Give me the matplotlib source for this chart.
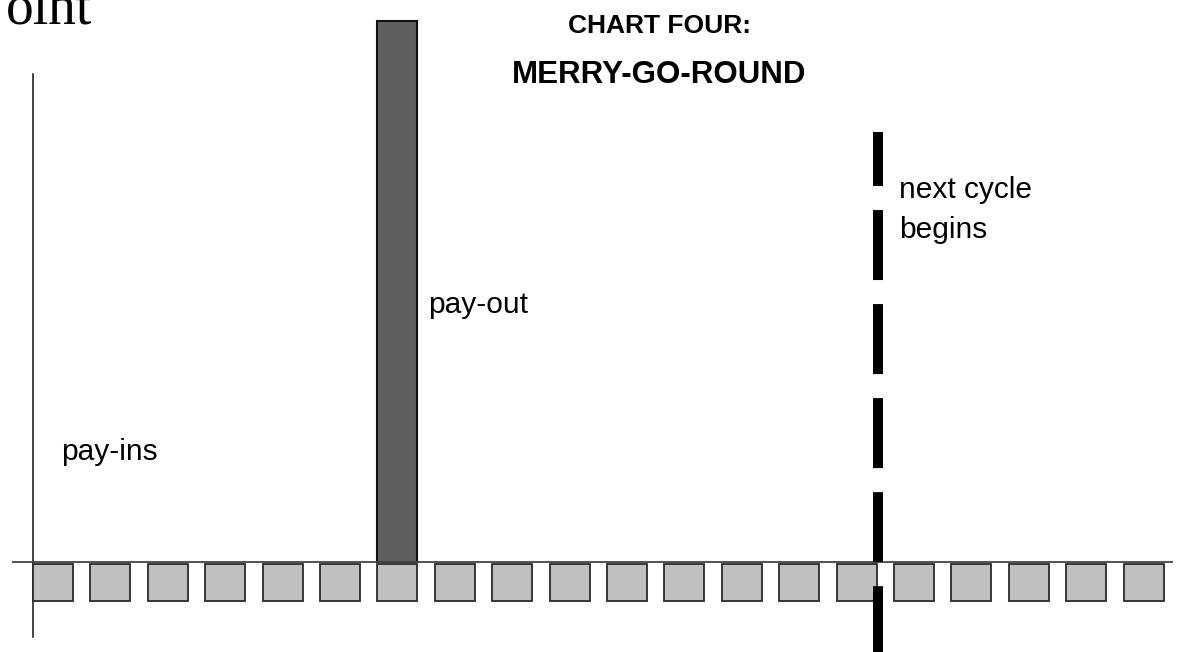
import matplotlib
matplotlib.use("Agg")
import matplotlib.pyplot as plt
from matplotlib.patches import Rectangle

plt.rcParams['font.family'] = ['Liberation Sans', 'DejaVu Sans']
plt.rcParams['lines.scale_dashes'] = False

# ---- data ----
periods = list(range(20))            # pay-in periods (grey squares)
payin_height = 0.68                   # size of each pay-in block
payout_period = 6                     # period in which the pay-out occurs
payout_value = 10.0                   # height of pay-out bar
next_cycle_at = 14.72                 # where next cycle begins
labels = {"pay-ins": "pay-ins", "pay-out": "pay-out",
          "next": ["next cycle", "begins"]}
title_lines = ["CHART FOUR:", "MERRY-GO-ROUND"]

W, H = 1186, 652
fig = plt.figure(figsize=(W / 100, H / 100), dpi=100)
ax = fig.add_axes([0, 0, 1, 1])
ax.set_axis_off()

px_u = 57.4   # pixels per period
px_y = 54.1   # pixels per value unit
x0, y0 = 33, 562
ax.set_xlim(-x0 / px_u, (W - x0) / px_u)
ax.set_ylim(-(H - y0) / px_y, y0 / px_y)

block_w = 0.697
# pay-in squares
for p in periods:
    ax.add_patch(Rectangle((p, -0.037 - payin_height), block_w, payin_height,
                           facecolor='#c0c0c0', edgecolor='#2a2a2a', lw=1.3, zorder=3))

# pay-out bar
ax.add_patch(Rectangle((payout_period, 0), block_w, payout_value,
                       facecolor='#5f5f5f', edgecolor='#111111', lw=1.5, zorder=2))

# axes lines
ax.plot([0, 0], [-1.386, 9.02], color='#111111', lw=1.1, zorder=1)
ax.plot([-0.348, 19.84], [0, 0], color='#444444', lw=1.3, zorder=4)

# next-cycle dashed line
ytop = (y0 - 132) / px_y
ax.plot([next_cycle_at, next_cycle_at], [ytop, -(H - y0) / px_y - 0.2],
        color='black', lw=7.2, solid_capstyle='butt', dash_capstyle='butt',
        linestyle=(11.5, (50.4, 17.3)), zorder=5)

# labels
fs = 21.5
ax.text(0.49, (y0 - 460) / px_y, labels["pay-ins"], fontsize=fs, va='baseline', ha='left')
ax.text(6.88, (y0 - 313) / px_y, labels["pay-out"], fontsize=fs, va='baseline', ha='left')
ax.text(15.09, (y0 - 198) / px_y, labels["next"][0], fontsize=fs, va='baseline', ha='left')
ax.text(15.09, (y0 - 238) / px_y, labels["next"][1], fontsize=fs, va='baseline', ha='left')

# title
fig.text(659 / W, 1 - 33 / H, title_lines[0], fontsize=19, fontweight='bold',
         ha='center', va='baseline')
fig.text(659 / W, 1 - 83 / H, title_lines[1], fontsize=22.5, fontweight='bold',
         ha='center', va='baseline')

# cropped serif text at top-left
fig.text(6 / W, 1 - 23 / H, "oint", fontsize=40, family='Liberation Serif',
         ha='left', va='baseline')

fig.savefig("out.png", dpi=100)
